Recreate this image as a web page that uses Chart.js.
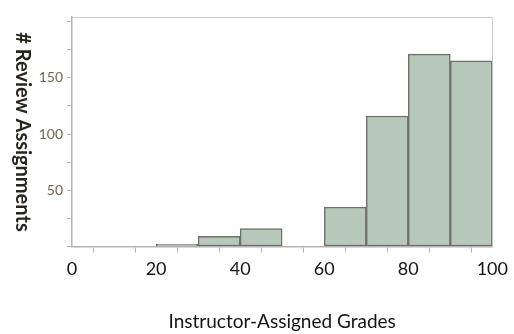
<!DOCTYPE html>
<html>
<head>
<meta charset="utf-8">
<script src="https://cdn.jsdelivr.net/npm/chart.js@4.4.1/dist/chart.umd.min.js"></script>
<style>
  html, body { margin: 0; padding: 0; background: #fff; }
  #wrap { width: 514px; height: 334px; }
</style>
</head>
<body>
<div id="wrap"><canvas id="myChart" width="514" height="334"></canvas></div>
<script>
// histogram bins (lower edge of each 10-point bin) and counts
var binStarts = [20, 30, 40, 50, 60, 70, 80, 90];
var binWidth = 10;
var counts = [2, 9, 16, 0, 35, 116, 171, 165];
var xLabeled = [0, 20, 40, 60, 80, 100];
var yLabeled = [50, 100, 150];

var xTitle = 'Instructor-Assigned Grades';
var yTitle = '# Review Assignments';

var points = binStarts.map(function (s, i) {
    return { x: s + binWidth / 2, y: counts[i] };
});

// y title reads top-to-bottom, so draw it ourselves
var yTitlePlugin = {
    id: 'yTitle',
    afterDraw: function (chart) {
        var ctx = chart.ctx;
        ctx.save();
        ctx.translate(22, 132);
        ctx.rotate(Math.PI / 2);
        ctx.font = 'bold 20px Lato';
        ctx.fillStyle = '#2a241e';
        ctx.textAlign = 'center';
        ctx.textBaseline = 'middle';
        ctx.fillText(yTitle, 0, 0);
        ctx.restore();
    }
};

new Chart(document.getElementById('myChart'), {
    type: 'bar',
    data: {
        datasets: [{
            data: points,
            backgroundColor: '#b8c8b8',
            borderColor: '#6e716e',
            borderWidth: 1.5,
            borderSkipped: false,
            barPercentage: 1,
            categoryPercentage: 1
        }]
    },
    options: {
        responsive: false,
        devicePixelRatio: 1,
        animation: false,
        layout: { padding: { left: 0, top: 9, right: 21, bottom: 0 } },
        plugins: {
            legend: { display: false },
            tooltip: { enabled: false }
        },
        scales: {
            x: {
                type: 'linear',
                position: 'bottom',
                min: 0,
                max: 100,
                offset: false,
                afterFit: function (scale) { scale.height = 87.5; },
                border: { color: '#b4b4b4', width: 1.5 },
                grid: { drawOnChartArea: false, drawTicks: true, tickLength: 6, color: '#b4b4b4' },
                ticks: {
                    stepSize: 10,
                    padding: 6,
                    maxRotation: 0,
                    autoSkip: false,
                    color: '#141414',
                    font: { family: 'Lato', size: 18 },
                    callback: function (v) { return xLabeled.indexOf(v) >= 0 ? String(v) : ''; }
                },
                title: {
                    display: true,
                    text: xTitle,
                    color: '#141414',
                    font: { family: 'Lato', size: 19 },
                    padding: { top: 0, bottom: 1 }
                }
            },
            xTop: {
                type: 'linear',
                position: 'top',
                min: 0,
                max: 100,
                border: { color: '#cfcfcf', width: 1 },
                grid: { display: false },
                ticks: { display: false }
            },
            y: {
                position: 'left',
                min: 0,
                max: 204,
                afterFit: function (scale) { scale.width = 72; },
                border: { color: '#b4b4b4', width: 1.5 },
                grid: { drawOnChartArea: false, drawTicks: true, tickLength: 5, color: '#b4b4b4' },
                ticks: {
                    stepSize: 25,
                    includeBounds: false,
                    padding: 4,
                    color: '#7a6650',
                    font: { family: 'Lato', size: 14 },
                    callback: function (v) { return yLabeled.indexOf(v) >= 0 ? String(v) : ''; }
                }
            },
            yRight: {
                position: 'right',
                min: 0,
                max: 204,
                afterFit: function (scale) { scale.width = 0; },
                border: { color: '#cfcfcf', width: 1 },
                grid: { display: false },
                ticks: { display: false }
            }
        }
    },
    plugins: [yTitlePlugin]
});
</script>
</body>
</html>
